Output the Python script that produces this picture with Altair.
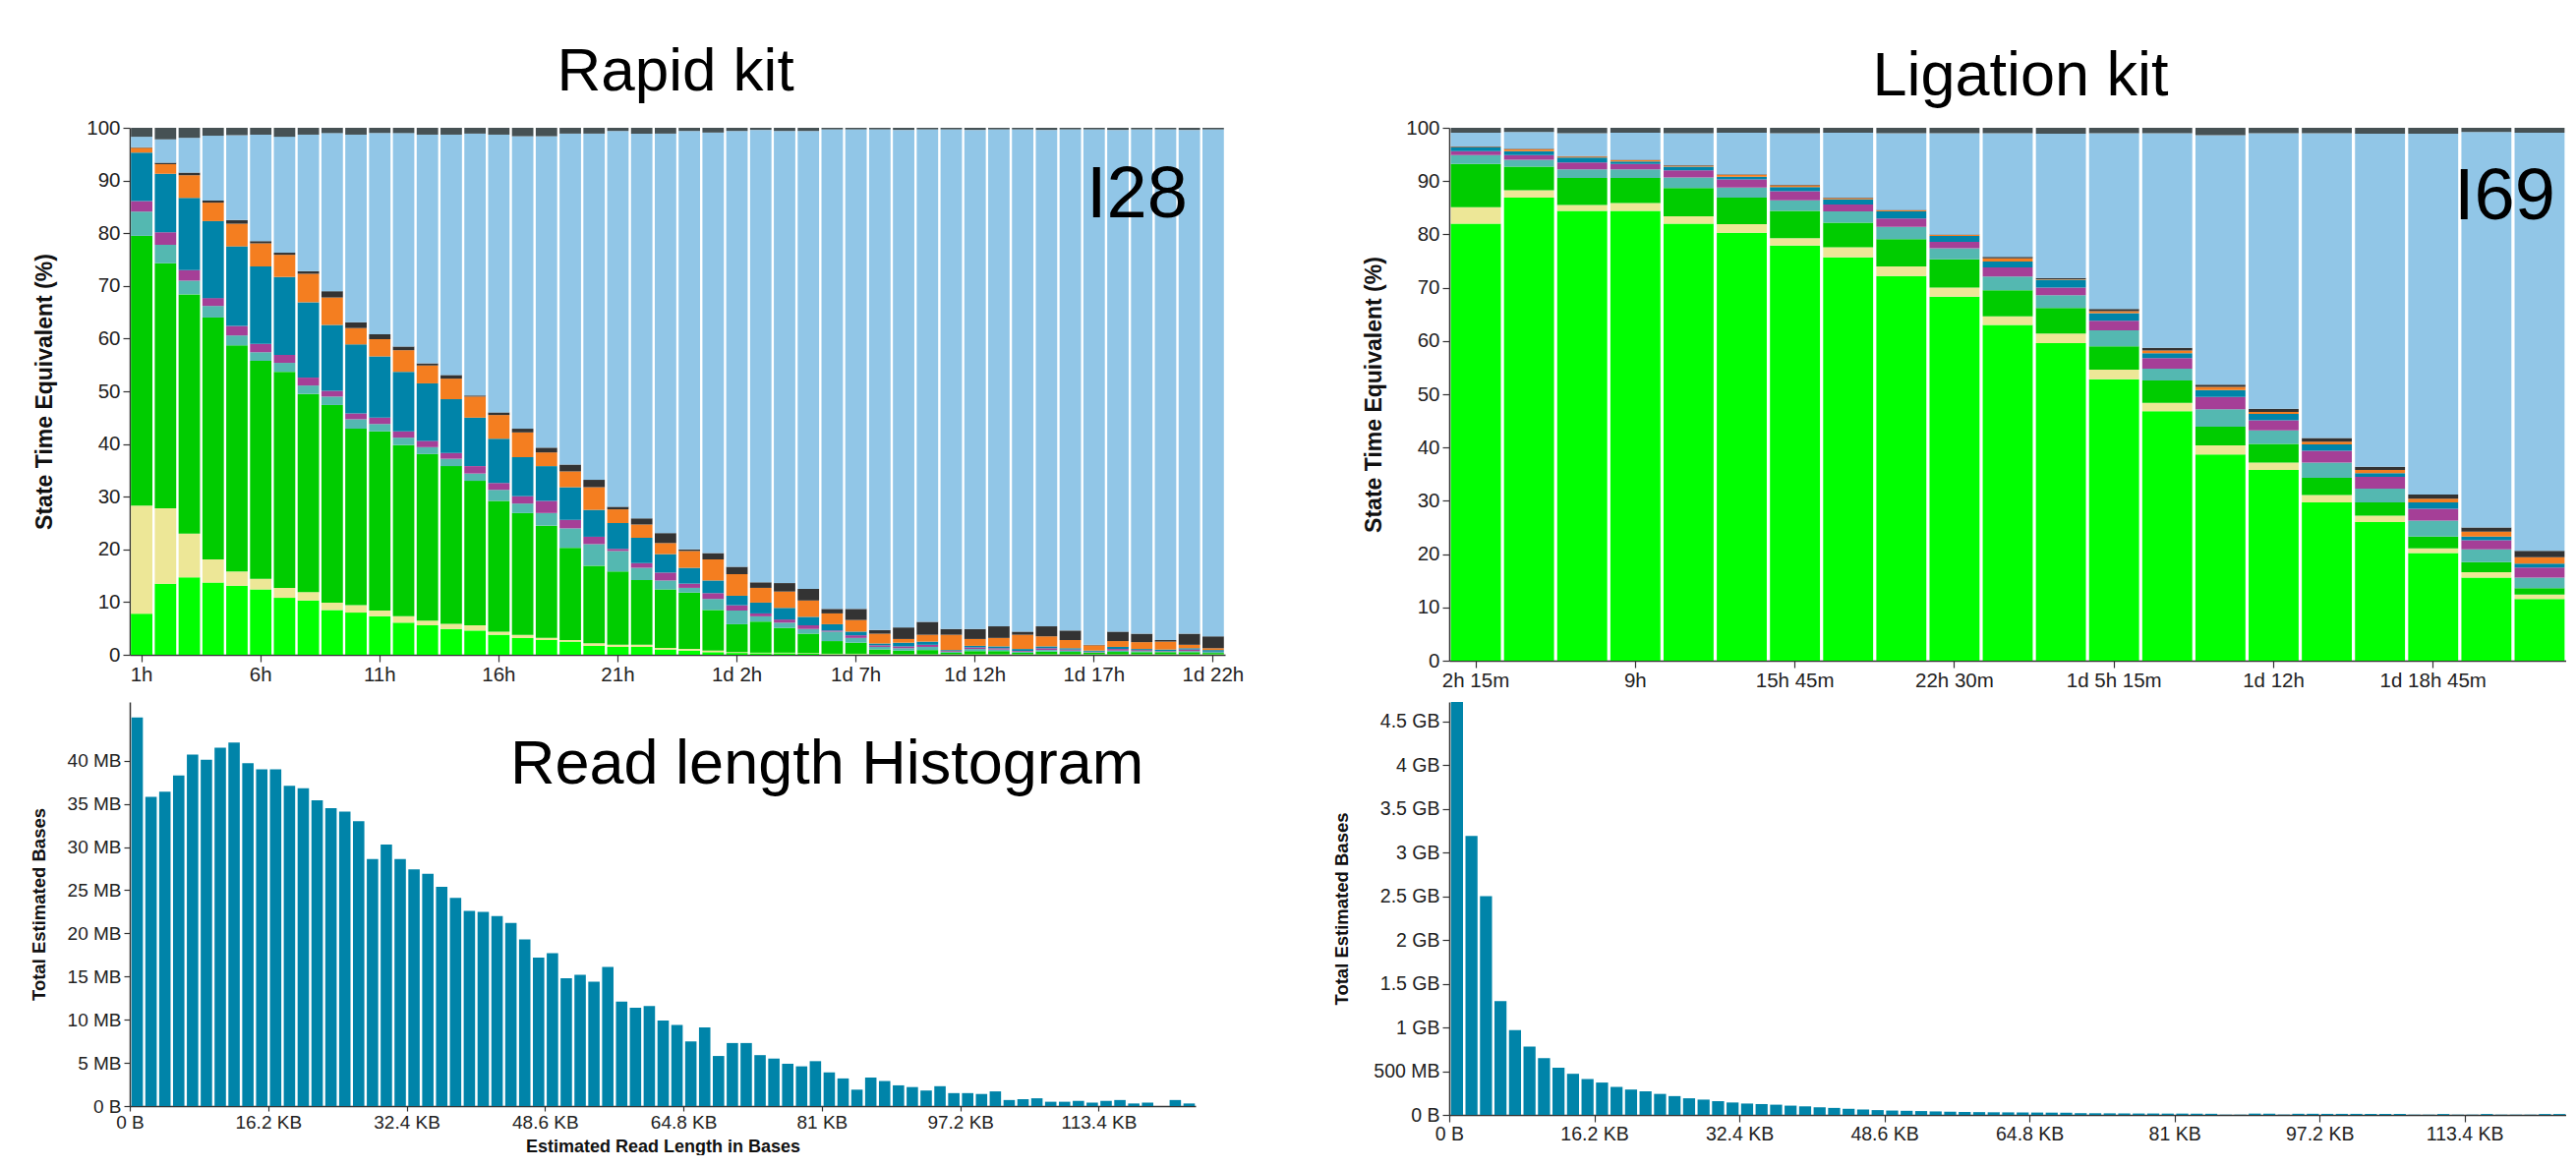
import altair as alt
import pandas as pd

# ---------------- channel states (bottom -> top of each bar) ----------------
STATES = ["strand", "adapter", "pore", "unavailable", "active_feedback",
          "no_pore", "out_of_range", "saturated", "zero", "unclassified"]
STATE_COLORS = ["#00ff00", "#ede797", "#00cc00", "#54b8b1", "#a53f97",
                "#0084a9", "#f47e20", "#333333", "#91c6e7", "#465154"]
FULL = 100.0

# ---------------- Rapid kit (I28): cumulative top (%) of each state, hourly bars ----------------
rapid_minutes = [60 * h for h in range(1, 47)]
rapid_strand = [7.8, 13.5, 14.7, 13.7, 13.1, 12.4, 10.8, 10.3, 8.5, 8.0, 7.3, 6.1, 5.6, 4.9, 4.6, 3.8,
                3.2, 2.8, 2.5, 1.7, 1.5, 1.5, 1.0, 0.8, 0.5, 0.35, 0.3, 0.3, 0.2, 0.1, 0.1, 0.1, 0.05,
                0.05, 0.05, 0.05, 0.05, 0.05, 0.05, 0.05, 0.05, 0.05, 0.05, 0.05, 0.05, 0.05]
rapid_adapter = [28.3, 27.8, 23.0, 18.1, 15.8, 14.4, 12.7, 11.9, 9.9, 9.4, 8.4, 7.3, 6.5, 5.9, 5.6, 4.4,
                 3.8, 3.2, 2.8, 2.2, 1.9, 1.9, 1.3, 1.1, 0.8, 0.5, 0.4, 0.4, 0.3, 0.2, 0.2, 0.15, 0.1,
                 0.1, 0.1, 0.1, 0.1, 0.1, 0.1, 0.1, 0.1, 0.1, 0.1, 0.1, 0.1, 0.1]
rapid_pore = [79.5, 74.3, 68.4, 64.0, 58.7, 55.8, 53.7, 49.5, 47.4, 42.9, 42.4, 39.8, 38.1, 35.8, 33.0,
              29.2, 26.9, 24.5, 20.3, 16.9, 15.8, 14.2, 12.4, 11.8, 8.5, 5.8, 6.3, 5.1, 4.0, 2.6, 2.3,
              1.0, 0.8, 0.9, 0.4, 0.7, 0.7, 0.4, 0.6, 0.55, 0.4, 0.55, 0.5, 0.5, 0.5, 0.35]
rapid_unavailable = [84.1, 77.8, 71.0, 66.2, 60.6, 57.4, 55.4, 51.1, 49.0, 44.7, 43.8, 41.2, 39.4, 37.2,
                     34.4, 31.3, 28.7, 26.9, 24.0, 21.0, 19.7, 16.5, 14.1, 12.7, 10.6, 8.4, 7.3, 6.1,
                     4.9, 4.4, 3.2, 1.5, 1.25, 1.5, 0.6, 1.1, 1.0, 0.6, 0.9, 0.8, 0.5, 0.8, 0.7, 0.6,
                     0.7, 0.55]
rapid_feedback = [86.1, 80.2, 73.0, 67.7, 62.4, 59.0, 56.9, 52.6, 50.1, 45.8, 45.0, 42.4, 40.6, 38.3,
                  35.8, 32.6, 30.1, 29.2, 25.6, 22.4, 20.1, 17.4, 15.6, 13.5, 11.7, 9.4, 7.85, 6.7,
                  5.6, 4.6, 3.7, 1.8, 1.6, 1.9, 0.75, 1.4, 1.25, 0.75, 1.25, 1.0, 0.6, 1.1, 0.9, 0.7,
                  1.0, 0.6]
rapid_no_pore = [95.3, 91.3, 86.7, 82.3, 77.5, 73.7, 71.7, 66.9, 62.6, 58.9, 56.6, 53.7, 51.5, 48.5,
                 45.0, 41.0, 37.5, 35.8, 31.8, 27.5, 25.0, 22.2, 19.1, 16.5, 14.1, 11.2, 9.9, 8.9, 7.2,
                 5.8, 4.4, 2.15, 2.3, 2.5, 0.9, 1.7, 1.6, 1.1, 1.6, 1.25, 0.8, 1.5, 1.1, 1.0, 1.25, 0.9]
rapid_out_of_range = [96.2, 93.1, 91.0, 85.8, 81.8, 78.1, 75.9, 72.3, 67.8, 62.0, 59.9, 57.8, 54.9,
                      52.4, 49.0, 45.5, 42.2, 38.4, 34.8, 31.8, 27.6, 24.7, 21.2, 19.7, 18.1, 15.3,
                      12.7, 12.0, 10.3, 7.85, 6.6, 4.0, 3.0, 3.8, 3.8, 3.0, 3.2, 3.8, 3.5, 2.8, 1.8,
                      2.6, 2.4, 2.5, 1.9, 1.25]
rapid_saturated = [96.3, 93.4, 91.5, 86.2, 82.5, 78.5, 76.3, 72.8, 69.0, 63.1, 60.8, 58.5, 55.3, 53.1,
                   49.2, 46.0, 42.9, 39.3, 36.1, 33.2, 28.1, 25.9, 23.1, 20.0, 19.3, 16.7, 13.75, 13.6,
                   12.5, 8.7, 8.7, 4.7, 5.2, 6.25, 4.9, 4.9, 5.4, 4.4, 5.4, 4.6, 1.9, 4.4, 4.0, 2.8,
                   4.0, 3.5]
rapid_zero = [98.3, 97.8, 98.1, 98.5, 98.6, 98.7, 98.3, 98.7, 99.0, 98.7, 99.0, 99.0, 98.7, 98.7, 98.9,
              98.7, 98.4, 98.4, 98.9, 98.9, 99.4, 98.9, 98.9, 99.4, 99.1, 99.4, 99.6, 99.4, 99.4, 99.7,
              99.7, 99.7, 99.6, 99.7, 99.7, 99.6, 99.7, 99.7, 99.6, 99.7, 99.7, 99.6, 99.7, 99.7, 99.6,
              99.7]

# ---------------- Ligation kit (I69): bars every 2h 15m ----------------
ligation_minutes = [135 * k for k in range(1, 22)]
lig_strand = [82.0, 86.9, 84.4, 84.4, 82.0, 80.3, 77.9, 75.7, 72.2, 68.3, 63.0, 59.6, 52.8, 46.8, 38.7,
              35.8, 29.7, 26.0, 20.2, 15.6, 11.6]
lig_adapter = [85.1, 88.3, 85.5, 85.9, 83.4, 81.9, 79.3, 77.6, 74.0, 70.0, 64.6, 61.4, 54.6, 48.4, 40.4,
               37.2, 31.1, 27.2, 21.1, 16.6, 12.4]
lig_pore = [93.2, 92.7, 90.6, 90.6, 88.7, 86.9, 84.4, 82.2, 79.1, 75.3, 69.5, 66.2, 59.0, 52.6, 43.9,
            40.7, 34.3, 29.7, 23.3, 18.5, 13.6]
lig_unavailable = [94.9, 94.0, 92.2, 92.2, 90.7, 88.8, 86.4, 84.3, 81.4, 77.4, 72.1, 68.6, 62.0, 54.8,
                   47.2, 43.2, 37.2, 32.3, 26.3, 20.9, 15.6]
lig_feedback = [95.6, 94.9, 93.5, 93.2, 92.0, 90.3, 88.1, 85.6, 83.0, 78.6, 73.8, 70.0, 63.8, 56.8, 49.5,
                45.1, 39.4, 34.5, 28.5, 22.6, 17.5]
lig_no_pore = [96.3, 95.6, 94.4, 93.7, 92.7, 90.8, 88.9, 86.6, 84.3, 79.7, 74.9, 71.5, 65.2, 57.7, 50.8,
               46.3, 40.6, 35.2, 29.7, 23.3, 18.2]
lig_out_of_range = [96.4, 96.0, 94.6, 93.9, 92.9, 91.2, 89.2, 86.8, 84.5, 79.9, 75.5, 71.6, 65.6, 58.2,
                    51.4, 46.7, 41.1, 35.8, 30.4, 24.2, 19.4]
lig_saturated = [96.5, 96.1, 94.7, 94.0, 93.0, 91.3, 89.3, 86.9, 84.6, 80.0, 75.8, 71.8, 66.0, 58.7, 51.8,
                 47.3, 41.8, 36.4, 31.2, 25.0, 20.6]
lig_zero = [99.1, 99.2, 99.0, 99.1, 99.0, 99.1, 99.0, 99.1, 99.0, 99.0, 99.0, 98.9, 99.0, 99.0, 98.6,
            99.0, 99.0, 98.9, 98.9, 99.2, 99.1]

# ---------------- read length histograms (bin width 1.62 KB) ----------------
BIN_WIDTH = 1620
X_MAX = 124740
rapid_hist_mb = [45.0, 35.8, 36.4, 38.3, 40.7, 40.1, 41.5, 42.1, 39.7, 39.0, 39.0, 37.1, 36.8, 35.4,
                 34.5, 34.1, 33.0, 28.6, 30.3, 28.6, 27.4, 26.9, 25.4, 24.1, 22.6, 22.5, 22.0, 21.2,
                 19.3, 17.2, 17.7, 14.8, 15.2, 14.4, 16.1, 12.1, 11.4, 11.6, 9.9, 9.4, 7.5, 9.1, 5.8,
                 7.3, 7.3, 5.9, 5.5, 4.9, 4.6, 5.2, 3.9, 3.2, 1.9, 3.3, 2.9, 2.4, 2.2, 1.8, 2.3, 1.5,
                 1.5, 1.4, 1.7, 0.7, 0.8, 0.9, 0.5, 0.5, 0.6, 0.4, 0.6, 0.7, 0.3, 0.4, 0.0, 0.7, 0.3]
ligation_hist_gb = [4.72, 3.19, 2.50, 1.30, 0.97, 0.78, 0.65, 0.54, 0.47, 0.41, 0.37, 0.32, 0.29, 0.27,
                    0.24, 0.215, 0.19, 0.175, 0.157, 0.142, 0.13, 0.124, 0.117, 0.106, 0.098, 0.087,
                    0.08, 0.07, 0.062, 0.055, 0.05, 0.047, 0.044, 0.04, 0.037, 0.034, 0.032, 0.03,
                    0.029, 0.028, 0.027, 0.026, 0.025, 0.02, 0.019, 0.018, 0.017, 0.016, 0.016, 0.015,
                    0.015, 0.014, 0.013, 0.003, 0.003, 0.015, 0.014, 0.004, 0.013, 0.013, 0.012, 0.012,
                    0.012, 0.011, 0.011, 0.011, 0.003, 0.003, 0.01, 0.003, 0.003, 0.01, 0.003, 0.003,
                    0.003, 0.01, 0.01]

FONT = "Liberation Sans"
HIST_COLOR = "#0084a9"


def fmt_minutes(m):
    d, rem = divmod(m, 1440)
    h, mi = divmod(rem, 60)
    parts = []
    if d:
        parts.append(f"{d}d")
    if h:
        parts.append(f"{h}h")
    if mi:
        parts.append(f"{mi}m")
    return " ".join(parts)


def stack_table(labels, tops):
    rows = []
    for i, lab in enumerate(labels):
        lo = 0.0
        for state, arr in zip(STATES, tops):
            hi = max(arr[i], lo)
            rows.append({"time": lab, "state": state, "lo": lo, "hi": hi})
            lo = hi
    return pd.DataFrame(rows)


def label_text(text, x, y, size, align="left"):
    return alt.Chart(pd.DataFrame({"t": [text]})).mark_text(
        align=align, baseline="alphabetic", fontSize=size, font=FONT, color="black"
    ).encode(x=alt.value(x), y=alt.value(y), text="t:N")


def state_chart(labels, tops, width, height, tick_labels, pad_inner, title_pad):
    df = stack_table(labels, tops)
    bars = alt.Chart(df).mark_bar().encode(
        x=alt.X("time:N", sort=labels,
                scale=alt.Scale(paddingInner=pad_inner, paddingOuter=pad_inner / 2),
                axis=alt.Axis(values=tick_labels, title=None, labelAngle=0, labelFontSize=20.5,
                              tickSize=7, labelPadding=3)),
        y=alt.Y("lo:Q", scale=alt.Scale(domain=[0, 100], nice=False),
                axis=alt.Axis(values=list(range(0, 101, 10)), title="State Time Equivalent (%)",
                              titleFontSize=23, labelFontSize=20.5, tickSize=7, labelPadding=3,
                              titlePadding=title_pad)),
        y2="hi:Q",
        color=alt.Color("state:N", scale=alt.Scale(domain=STATES, range=STATE_COLORS), legend=None),
    )
    return bars.properties(width=width, height=height)


rapid_labels = [fmt_minutes(m) for m in rapid_minutes]
ligation_labels = [fmt_minutes(m) for m in ligation_minutes]

rapid_tops = [rapid_strand, rapid_adapter, rapid_pore, rapid_unavailable, rapid_feedback, rapid_no_pore,
              rapid_out_of_range, rapid_saturated, rapid_zero, [FULL] * len(rapid_minutes)]
lig_tops = [lig_strand, lig_adapter, lig_pore, lig_unavailable, lig_feedback, lig_no_pore,
            lig_out_of_range, lig_saturated, lig_zero, [FULL] * len(ligation_minutes)]

TL_W, TL_H = 1114, 536
TR_W, TR_H = 1136, 542
BL_W, BL_H = 1084, 411
BR_W, BR_H = 1136, 420

tl = alt.layer(
    state_chart(rapid_labels, rapid_tops, TL_W, TL_H, rapid_labels[::5], 0.1, 30),
    label_text("Rapid kit", TL_W / 2 - 2, -38, 62, "center"),
    label_text("I28", 973, 91, 74),
)

tr = alt.layer(
    state_chart(ligation_labels, lig_tops, TR_W, TR_H, ligation_labels[::3], 0.06, 20),
    label_text("Ligation kit", 581, -33, 63, "center"),
    label_text("I69", 1022, 93, 74),
)

kb_tick_values = [BIN_WIDTH * 10 * k for k in range(8)]
kb_label = "datum.value == 0 ? '0 B' : format(datum.value / 1000, '~g') + ' KB'"


def hist_df(values):
    return pd.DataFrame({
        "start": [BIN_WIDTH * i for i in range(len(values))],
        "end": [BIN_WIDTH * (i + 1) for i in range(len(values))],
        "v": values,
    })


bl_bars = alt.Chart(hist_df(rapid_hist_mb)).mark_bar(color=HIST_COLOR, binSpacing=2.5).encode(
    x=alt.X("start:Q", bin="binned", scale=alt.Scale(domain=[0, X_MAX], nice=False, zero=True),
            axis=alt.Axis(values=kb_tick_values, labelExpr=kb_label, labelFlush=False,
                          title="Estimated Read Length in Bases", titleFontSize=18, labelFontSize=19,
                          tickSize=5, labelPadding=2, titlePadding=6)),
    x2="end:Q",
    y=alt.Y("v:Q", scale=alt.Scale(domain=[0, 46.8], nice=False),
            axis=alt.Axis(values=list(range(0, 41, 5)),
                          labelExpr="datum.value == 0 ? '0 B' : datum.value + ' MB'",
                          title="Total Estimated Bases", titleFontSize=18.5, labelFontSize=19,
                          tickSize=6, labelPadding=3, titlePadding=19)),
).properties(width=BL_W, height=BL_H)

bl = alt.layer(bl_bars, label_text("Read length Histogram", 387, 83, 63))

br = alt.Chart(hist_df(ligation_hist_gb)).mark_bar(color=HIST_COLOR, binSpacing=2.5).encode(
    x=alt.X("start:Q", bin="binned", scale=alt.Scale(domain=[0, X_MAX], nice=False, zero=True),
            axis=alt.Axis(values=kb_tick_values, labelExpr=kb_label, labelFlush=False, title=None,
                          labelFontSize=19.5, tickSize=7, labelPadding=3)),
    x2="end:Q",
    y=alt.Y("v:Q", scale=alt.Scale(domain=[0, 4.72], nice=False),
            axis=alt.Axis(values=[i * 0.5 for i in range(10)],
                          labelExpr="datum.value == 0 ? '0 B' : (datum.value < 1 ? format(datum.value * 1000, 'd') + ' MB' : format(datum.value, '~g') + ' GB')",
                          title="Total Estimated Bases", titleFontSize=18.5, labelFontSize=19.5,
                          tickSize=7, labelPadding=3, titlePadding=22)),
).properties(width=BR_W, height=BR_H)

chart = alt.concat(
    tl, tr, bl, br, columns=2, bounds="flush",
    spacing=alt.RowColnumber(row=42, column=228),
).properties(
    padding={"left": 22, "top": 34, "right": 0, "bottom": 0}
).configure_view(stroke=None).configure_axis(
    labelFont=FONT, titleFont=FONT, titleFontWeight="bold", labelColor="#222222",
    titleColor="#111111", domainColor="#333333", tickColor="#333333", grid=False,
    domainWidth=1.5, tickWidth=1.2
)

chart.save("out.html", embed_options={"renderer": "svg", "actions": False})
